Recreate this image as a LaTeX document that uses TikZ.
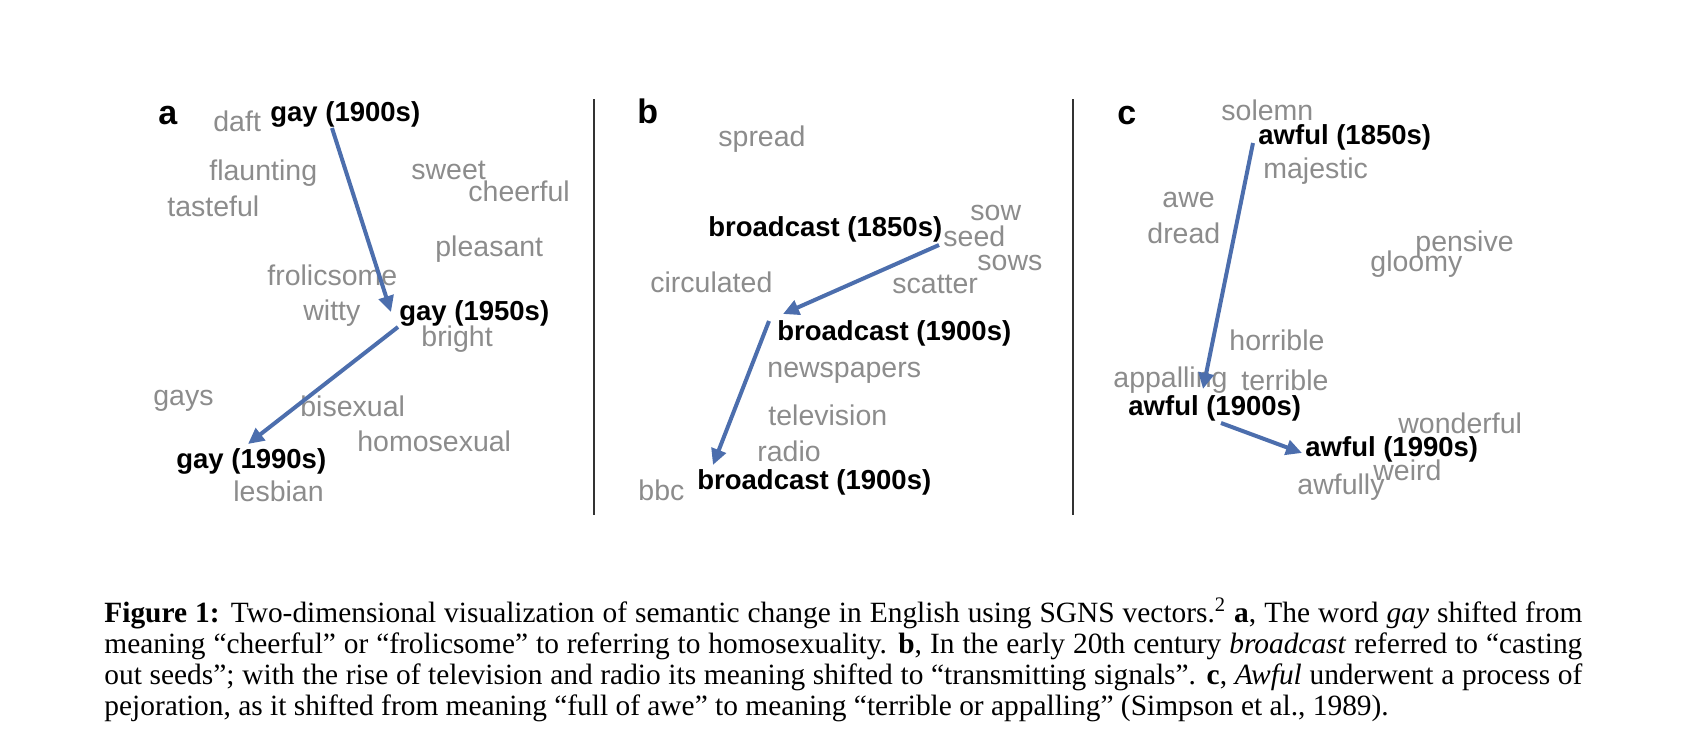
\documentclass[tikz,border=0pt]{standalone}
\usepackage{fontspec}
\setmainfont{Liberation Serif}
\setsansfont{Liberation Sans}
\newfontfamily\capfont{Liberation Serif}
\usetikzlibrary{arrows.meta}
\definecolor{wgrey}{HTML}{8C8C8C}
\definecolor{arrblue}{HTML}{4C6EAD}
\tikzset{
  word/.style={anchor=base west, inner sep=0pt, text=wgrey, font=\sffamily\fontsize{14.25}{16}\selectfont},
  focus/.style={anchor=base west, inner sep=0pt, text=black, font=\sffamily\bfseries\fontsize{13.75}{16}\selectfont},
  plabel/.style={anchor=base west, inner sep=0pt, text=black, font=\sffamily\bfseries\fontsize{17}{20}\selectfont},
  shiftarrow/.style={draw=arrblue, line width=2pt, -{Triangle[length=8pt,width=7.5pt]}},
  panelsep/.style={draw=black!80, line width=0.7pt},
  capline/.style={anchor=base west, inner sep=0pt, font=\capfont\fontsize{14.7}{15.5}\selectfont},
}
\begin{document}
\begin{tikzpicture}[x=0.5pt,y=-0.5pt]
\useasboundingbox (0,0) rectangle (1688,744);

% separators
\coordinate (s1t) at (594,99);  \coordinate (s1b) at (594,515);
\coordinate (s2t) at (1073,99); \coordinate (s2b) at (1073,515);
\draw[panelsep] (s1t) -- (s1b);
\draw[panelsep] (s2t) -- (s2b);

% panel a
\node[plabel] (la) at (158,124) {a};
\node[word] (daft) at (213,131.7) {daft};
\node[focus] (g1) at (270,121.7) {gay (1900s)};
\node[word] (flaunting) at (209,180) {flaunting};
\node[word] (tasteful) at (167,216.7) {tasteful};
\node[word] (sweet) at (411,179.3) {sweet};
\node[word] (cheerful) at (468,201.7) {cheerful};
\node[word] (pleasant) at (435,256) {pleasant};
\node[word] (frolicsome) at (267,285) {frolicsome};
\node[word] (witty) at (303,320) {witty};
\node[focus] (g2) at (399,320) {gay (1950s)};
\node[word] (bright) at (421,346.7) {bright};
\node[word] (gays) at (153,405) {gays};
\node[word] (bisexual) at (300,416.7) {bisexual};
\node[word] (homosexual) at (357,451.7) {homosexual};
\node[focus] (g3) at (176,468.3) {gay (1990s)};
\node[word] (lesbian) at (233,501.7) {lesbian};
\coordinate (a1s) at (332,128); \coordinate (a1e) at (391,312);
\coordinate (a2s) at (398,327); \coordinate (a2e) at (248,444);
\draw[shiftarrow] (a1s) -- (a1e);
\draw[shiftarrow] (a2s) -- (a2e);

% panel b
\node[plabel] (lb) at (637,123) {b};
\node[word] (spread) at (718,146) {spread};
\node[word] (sow) at (970,220) {sow};
\node[focus] (b1) at (708,236) {broadcast (1850s)};
\node[word] (seed) at (943,246.7) {seed};
\node[word] (sows) at (977,270.7) {sows};
\node[word] (circulated) at (650,292.7) {circulated};
\node[word] (scatter) at (892,293.3) {scatter};
\node[focus] (b2) at (777,340.7) {broadcast (1900s)};
\node[word] (newspapers) at (767,377.7) {newspapers};
\node[word] (television) at (768,425) {television};
\node[word] (radio) at (757,461.7) {radio};
\node[focus] (b3) at (697,489.3) {broadcast (1900s)};
\node[word] (bbc) at (638,500.7) {bbc};
\coordinate (b1s) at (939,245); \coordinate (b1e) at (783,314);
\coordinate (b2s) at (769,321); \coordinate (b2e) at (713,465);
\draw[shiftarrow] (b1s) -- (b1e);
\draw[shiftarrow] (b2s) -- (b2e);

% panel c
\node[plabel] (lc) at (1117,124) {c};
\node[word] (solemn) at (1221,120.7) {solemn};
\node[focus] (c1) at (1258,144) {awful (1850s)};
\node[word] (majestic) at (1263,178.3) {majestic};
\node[word] (awe) at (1162,207.3) {awe};
\node[word] (dread) at (1147,243.3) {dread};
\node[word] (pensive) at (1415,251.7) {pensive};
\node[word] (gloomy) at (1370,271.7) {gloomy};
\node[word] (horrible) at (1229,350) {horrible};
\node[word] (appalling) at (1113,387.3) {appalling};
\node[word] (terrible) at (1241,390.7) {terrible};
\node[focus] (c2) at (1128,415) {awful (1900s)};
\node[word] (wonderful) at (1398,433.3) {wonderful};
\node[focus] (c3) at (1305,456.3) {awful (1990s)};
\node[word] (weird) at (1373,480) {weird};
\node[word] (awfully) at (1297,494) {awfully};
\coordinate (c1s) at (1253,143); \coordinate (c1e) at (1203,389);
\coordinate (c2s) at (1221,423); \coordinate (c2e) at (1302,453);
\draw[shiftarrow] (c1s) -- (c1e);
\draw[shiftarrow] (c2s) -- (c2e);

% caption
\node[capline] (cap1) at (104,622) {\makebox[739pt][s]{\textbf{Figure 1:} Two-dimensional visualization of semantic change in English using SGNS vectors.\textsuperscript{2} \textbf{a}, The word \textit{gay} shifted from}};
\node[capline] (cap2) at (104,653) {\makebox[739pt][s]{meaning “cheerful” or “frolicsome” to referring to homosexuality. \textbf{b}, In the early 20th century \textit{broadcast} referred to “casting}};
\node[capline] (cap3) at (104,684) {\makebox[739pt][s]{out seeds”; with the rise of television and radio its meaning shifted to “transmitting signals”. \textbf{c}, \textit{Awful} underwent a process of}};
\node[capline] (cap4) at (104,715) {pejoration, as it shifted from meaning “full of awe” to meaning “terrible or appalling” (Simpson et al., 1989).};
\end{tikzpicture}
\end{document}
